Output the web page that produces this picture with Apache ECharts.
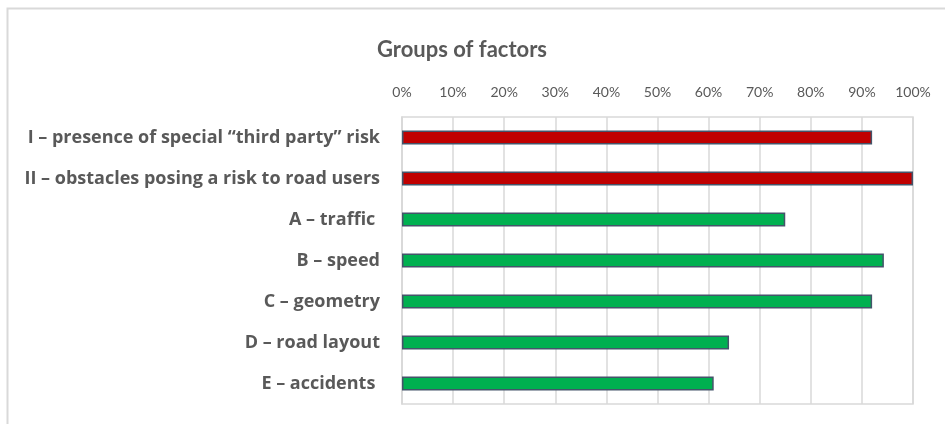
<!DOCTYPE html>
<html>
<head>
<meta charset="utf-8">
<script src="https://cdn.jsdelivr.net/npm/echarts@6/dist/echarts.min.js"></script>
<style>
html,body{margin:0;padding:0;background:#fff;}
#chart{width:945px;height:424px;}
</style>
</head>
<body>
<div id="chart"></div>
<script>
const categories = [
  "I – presence of special “third party” risk",
  "II – obstacles posing a risk to road users",
  "A – traffic ",
  "B – speed",
  "C – geometry",
  "D – road layout",
  "E – accidents "
];
const values = [92, 100, 75, 94.3, 92, 64, 61];
const barColors = ["#C00000", "#C00000", "#00B050", "#00B050", "#00B050", "#00B050", "#00B050"];
const xTicks = [0, 10, 20, 30, 40, 50, 60, 70, 80, 90, 100];

const chart = echarts.init(document.getElementById('chart'));
const font = 'Lato, "Open Sans", sans-serif';
chart.setOption({
  animation: false,
  backgroundColor: '#ffffff',
  title: {
    text: 'Groups of factors',
    left: 457,
    top: 34,
    textAlign: 'center',
    textStyle: { fontFamily: font, fontSize: 22, fontWeight: 'bold', color: '#595959' }
  },
  graphic: [{
    type: 'rect',
    shape: { x: 7.5, y: 8.5, width: 1000, height: 500 },
    style: { fill: 'none', stroke: '#d9d9d9', lineWidth: 2 },
    silent: true
  }],
  grid: {
    left: 402, right: 32, top: 117, bottom: 20, containLabel: false,
    show: true, borderColor: '#d9d9d9', borderWidth: 1.5, backgroundColor: 'transparent'
  },
  xAxis: {
    type: 'value',
    position: 'top',
    min: 0,
    max: 100,
    interval: 10,
    axisLine: { show: false },
    axisTick: { show: false },
    splitLine: { show: true, lineStyle: { color: '#d9d9d9', width: 1.5 } },
    axisLabel: {
      margin: 18,
      fontFamily: font,
      fontSize: 14,
      color: '#595959',
      formatter: v => (xTicks.indexOf(v) >= 0 ? v + '%' : '')
    }
  },
  yAxis: {
    type: 'category',
    data: categories,
    inverse: true,
    axisLine: { show: true, lineStyle: { color: '#d9d9d9', width: 1.5 } },
    axisTick: { show: false },
    splitLine: { show: false },
    axisLabel: {
      margin: 22,
      fontFamily: '"Open Sans", Lato, sans-serif',
      fontSize: 18,
      fontWeight: 'bold',
      color: '#595959'
    }
  },
  series: [{
    type: 'bar',
    data: values.map((v, i) => ({ value: v, itemStyle: { color: barColors[i] } })),
    barWidth: 14,
    itemStyle: { borderColor: '#44546A', borderWidth: 1.5 }
  }]
});
</script>
</body>
</html>
